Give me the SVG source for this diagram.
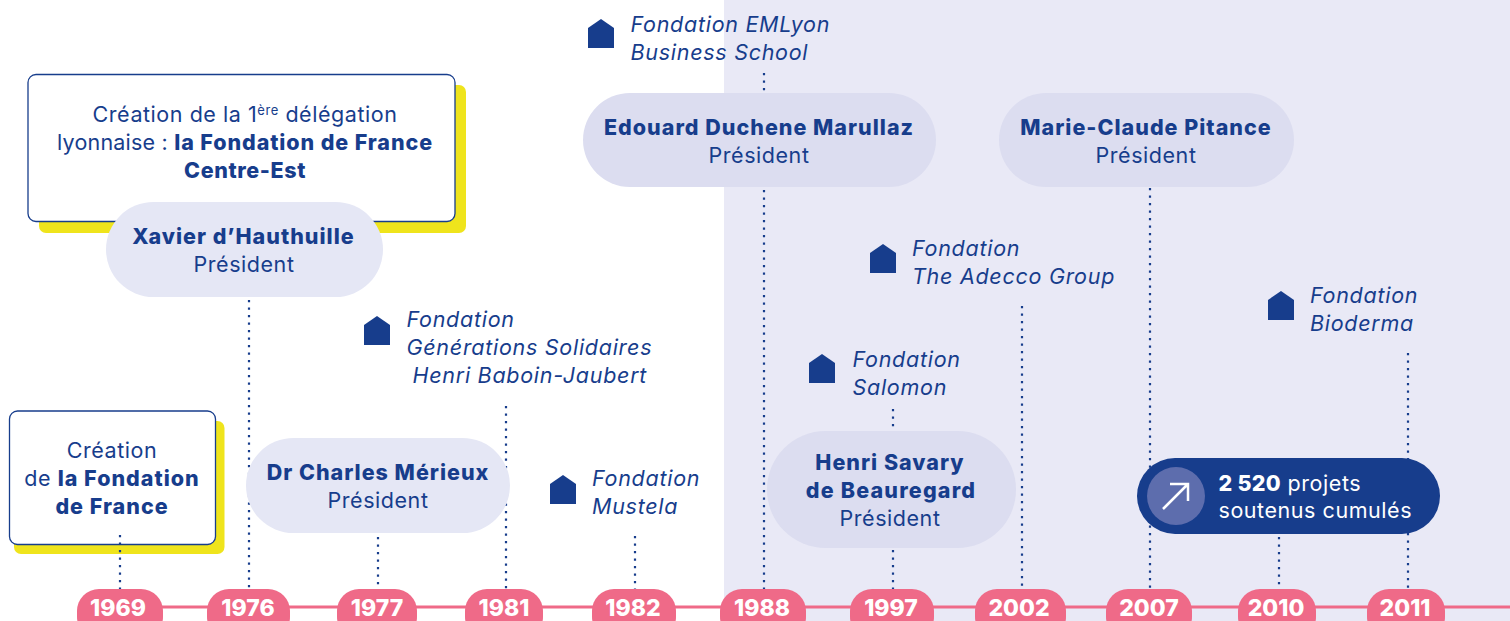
<svg xmlns="http://www.w3.org/2000/svg" width="1510" height="621" viewBox="0 0 1510 621">
<style>
text{font-family:"Inter","Noto Sans","Liberation Sans",sans-serif;font-size:21.5px;fill:#173d8c;text-anchor:middle;letter-spacing:.55px}
.s{text-anchor:start}
.b{font-weight:800;letter-spacing:1px}
.i{font-style:italic;text-anchor:start;letter-spacing:.72px}
.w{fill:#fff}
.y{fill:#efe41c}
.box{fill:#fff;stroke:#173d8c;stroke-width:1.3}
.p{fill:#e5e7f5}
.p2{fill:#dcddf0}
.yr{fill:#ef6a88}
.yt{fill:#fff;font-weight:800;font-size:23px;letter-spacing:0}
.h{fill:#173d8c}
.d{stroke:#173d8c;stroke-width:2.2;stroke-dasharray:2.2 5.3;fill:none}
</style>
<rect id="background" x="724" y="0" width="786" height="621" fill="#e9e9f6"/>
<g id="timeline-line"><path d="M118 607H1510" stroke="#ef6a88" stroke-width="3" fill="none"/></g>
<g id="connectors">
<path class="d" d="M249 300V589"/>
<path class="d" d="M378 537V589"/>
<path class="d" d="M506 406V589"/>
<path class="d" d="M635 536V589"/>
<path class="d" d="M764 73V92M764 190V589"/>
<path class="d" d="M893 409V430M893 550V589"/>
<path class="d" d="M1022 306V589"/>
<path class="d" d="M1150 188V589"/>
<path class="d" d="M1279 537V589"/>
<path class="d" d="M1408 353V589"/>
</g>
<g id="note-1969">
<rect class="y" x="14" y="421" width="210.500" height="133" rx="7"/>
<rect class="box" x="9.500" y="411" width="206" height="133.500" rx="8"/>
<text x="112" y="458">Création</text>
<text x="112" y="486">de <tspan class="b">la Fondation</tspan></text>
<text x="112" y="514" class="b">de France</text>
</g>
<path class="d" d="M120 535V589"/>
<g id="note-delegation">
<rect class="y" x="39" y="85" width="427" height="148" rx="7"/>
<rect class="box" x="28" y="74.500" width="427" height="147" rx="8"/>
<text x="245" y="122">Création de la 1<tspan font-size="13" dy="-7">ère</tspan><tspan dy="7"> délégation</tspan></text>
<text x="245" y="150"><tspan style="letter-spacing:.2px">lyonnaise : </tspan><tspan class="b" style="letter-spacing:.9px">la Fondation de France</tspan></text>
<text x="245" y="178" class="b" style="letter-spacing:.6px">Centre-Est</text>
</g>
<g id="pill-hauthuille">
<rect class="p" x="106" y="202" width="277" height="95" rx="47.500"/>
<text x="243.500" y="244" class="b">Xavier d’Hauthuille</text>
<text x="244" y="272">Président</text>
</g>
<g id="pill-merieux">
<rect class="p" x="246" y="438" width="264" height="95" rx="47.500"/>
<text x="378" y="480" class="b">Dr Charles Mérieux</text>
<text x="378" y="508">Président</text>
</g>
<g id="pill-duchene">
<rect class="p2" x="583" y="93" width="353" height="94" rx="47"/>
<text x="759" y="135" class="b">Edouard Duchene Marullaz</text>
<text x="759" y="163">Président</text>
</g>
<g id="pill-pitance">
<rect class="p2" x="999" y="93" width="295" height="94" rx="47"/>
<text x="1146" y="135" class="b">Marie-Claude Pitance</text>
<text x="1146" y="163">Président</text>
</g>
<g id="pill-savary">
<rect class="p2" x="767" y="431" width="249" height="117" rx="58.500"/>
<text x="890" y="470" class="b">Henri Savary</text>
<text x="891" y="498" class="b" style="letter-spacing:1.2px">de Beauregard</text>
<text x="890" y="526">Président</text>
</g>
<g id="stat-projets">
<rect x="1137" y="458" width="303" height="76" rx="38" fill="#173d8c"/>
<circle cx="1176" cy="496" r="29" fill="#5d6dad"/>
<path d="M1163 509L1188 484M1170 484H1188V501" stroke="#fff" stroke-width="2.500" fill="none"/>
<text x="1218.500" y="491" class="s w"><tspan class="b w" style="letter-spacing:.3px">2 520</tspan> projets</text>
<text x="1218.500" y="518" class="s w">soutenus cumulés</text>
</g>
<g id="fondation-emlyon">
<path class="h" d="M588 48V28L601 19L614 28V48Z"/>
<text class="i" x="630.500" y="32">Fondation EMLyon</text>
<text class="i" x="630.500" y="60">Business School</text>
</g>
<g id="fondation-adecco">
<path class="h" d="M870 273V253L883 244L896 253V273Z"/>
<text class="i" x="912" y="256">Fondation</text>
<text class="i" x="912" y="284">The Adecco Group</text>
</g>
<g id="fondation-generations">
<path class="h" d="M364 345V325L377 316L390 325V345Z"/>
<text class="i" x="406.500" y="327">Fondation</text>
<text class="i" x="406.500" y="355">Générations Solidaires</text>
<text class="i" x="412.500" y="383">Henri Baboin-Jaubert</text>
</g>
<g id="fondation-mustela">
<path class="h" d="M550 504V484L563 475L576 484V504Z"/>
<text class="i" x="592" y="486">Fondation</text>
<text class="i" x="592" y="514">Mustela</text>
</g>
<g id="fondation-salomon">
<path class="h" d="M809 383V363L822 354L835 363V383Z"/>
<text class="i" x="852.500" y="367">Fondation</text>
<text class="i" x="852.500" y="395">Salomon</text>
</g>
<g id="fondation-bioderma">
<path class="h" d="M1268 320V300L1281 291L1294 300V320Z"/>
<text class="i" x="1310" y="303">Fondation</text>
<text class="i" x="1310" y="331">Bioderma</text>
</g>
<g id="years">
<g id="y1969"><rect class="yr" x="77" y="589" width="86" height="50" rx="22"/><text class="yt" x="118" y="616">1969</text></g>
<g id="y1976"><rect class="yr" x="207" y="589" width="83" height="50" rx="22"/><text class="yt" x="248" y="616">1976</text></g>
<g id="y1977"><rect class="yr" x="337" y="589" width="80" height="50" rx="22"/><text class="yt" x="377" y="616">1977</text></g>
<g id="y1981"><rect class="yr" x="465" y="589" width="78" height="50" rx="22"/><text class="yt" x="504" y="616">1981</text></g>
<g id="y1982"><rect class="yr" x="592" y="589" width="84" height="50" rx="22"/><text class="yt" x="633" y="616">1982</text></g>
<g id="y1988"><rect class="yr" x="720" y="589" width="86" height="50" rx="22"/><text class="yt" x="762" y="616">1988</text></g>
<g id="y1997"><rect class="yr" x="850" y="589" width="84" height="50" rx="22"/><text class="yt" x="891" y="616">1997</text></g>
<g id="y2002"><rect class="yr" x="975" y="589" width="91" height="50" rx="22"/><text class="yt" x="1019" y="616">2002</text></g>
<g id="y2007"><rect class="yr" x="1106" y="589" width="86" height="50" rx="22"/><text class="yt" x="1149" y="616">2007</text></g>
<g id="y2010"><rect class="yr" x="1238" y="589" width="78" height="50" rx="22"/><text class="yt" x="1276" y="616">2010</text></g>
<g id="y2011"><rect class="yr" x="1367" y="589" width="78" height="50" rx="22"/><text class="yt" x="1405" y="616">2011</text></g>
</g>
</svg>
